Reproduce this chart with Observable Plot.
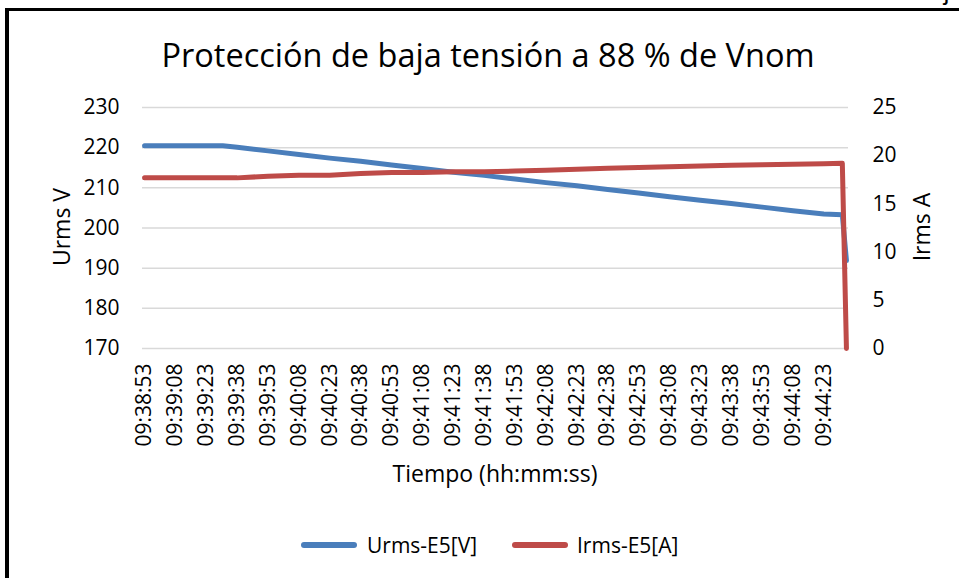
<!DOCTYPE html>
<html><head><meta charset="utf-8">
<script src="https://cdn.jsdelivr.net/npm/d3@7"></script>
<script src="https://cdn.jsdelivr.net/npm/@observablehq/plot@0.6"></script>
<style>
body{margin:0;background:#fff;}
#wrap{position:relative;width:959px;height:578px;overflow:hidden;font-family:"Open Sans",sans-serif;color:#000;background:#fff;}
.abs{position:absolute;white-space:nowrap;line-height:1;}
</style></head>
<body><div id="wrap"></div>
<script>
// ---- data ----
const title = "Protección de baja tensión a 88 % de Vnom";
const xTitle = "Tiempo (hh:mm:ss)";
const yLeftTitle = "Urms V";
const yRightTitle = "Irms A";
const seriesNames = ["Urms-E5[V]", "Irms-E5[A]"];
const seriesColors = ["#4A7EBB", "#BE4B48"];

const tickLabels = ["09:38:53","09:39:08","09:39:23","09:39:38","09:39:53","09:40:08","09:40:23","09:40:38","09:40:53","09:41:08","09:41:23","09:41:38","09:41:53","09:42:08","09:42:23","09:42:38","09:42:53","09:43:08","09:43:23","09:43:38","09:43:53","09:44:08","09:44:23"];
const leftTicks = [170,180,190,200,210,220,230];
const rightTicks = [0,5,10,15,20,25];

const uTimes = ["09:38:53","09:39:08","09:39:23","09:39:31","09:39:38","09:39:53","09:40:08","09:40:23","09:40:38","09:40:53","09:41:08","09:41:23","09:41:38","09:41:53","09:42:08","09:42:23","09:42:38","09:42:53","09:43:08","09:43:23","09:43:38","09:43:53","09:44:08","09:44:23","09:44:32","09:44:34"];
const uValues = [220.5,220.5,220.5,220.5,220.1,219.2,218.3,217.4,216.6,215.7,214.8,213.9,213.1,212.2,211.3,210.5,209.6,208.7,207.8,206.9,206.1,205.2,204.3,203.5,203.3,191.9];

const iTimes = ["09:38:53","09:39:08","09:39:23","09:39:38","09:39:53","09:40:08","09:40:23","09:40:38","09:40:53","09:41:08","09:41:23","09:41:38","09:41:53","09:42:08","09:42:23","09:42:38","09:42:53","09:43:08","09:43:23","09:43:38","09:43:53","09:44:08","09:44:23","09:44:32","09:44:34"];
const iValues = [17.7,17.7,17.7,17.7,17.87,17.98,17.98,18.15,18.26,18.26,18.33,18.33,18.40,18.50,18.60,18.70,18.78,18.86,18.93,19.00,19.07,19.12,19.16,19.22,0];

// ---- helpers ----
const toSec = s => { const [h,m,x] = s.split(":").map(Number); return h*3600 + m*60 + x; };
const pad = n => String(n).padStart(2,"0");
const fmt = t => `${pad(Math.floor(t/3600))}:${pad(Math.floor(t%3600/60))}:${pad(t%60)}`;
const yMin = leftTicks[0], yMax = leftTicks[leftTicks.length-1];
const aMax = rightTicks[rightTicks.length-1];
const aToV = a => yMin + a * (yMax - yMin) / aMax;   // secondary axis mapped onto primary
const vToA = v => (v - yMin) * aMax / (yMax - yMin);

const t0 = toSec(tickLabels[0]);
const uData = uTimes.map((t,i) => ({t: toSec(t), v: uValues[i]}));
const iData = iTimes.map((t,i) => ({t: toSec(t), v: aToV(iValues[i])}));

const W = 959, H = 578;
const chart = Plot.plot({
  width: W, height: H,
  marginLeft: 142, marginRight: 111, marginTop: 107, marginBottom: 230,
  style: {fontFamily: "'Open Sans', sans-serif", fontSize: "21px", color: "#000", background: "transparent", overflow: "visible"},
  x: {type: "linear", domain: [t0 - 1, t0 + 342]},
  y: {domain: [yMin, yMax]},
  marks: [
    Plot.gridY(leftTicks, {stroke: "#d9d9d9", strokeOpacity: 1, strokeWidth: 1.5}),
    Plot.axisY({ticks: leftTicks, tickSize: 0, tickPadding: 23, label: null, fontSize: 21}),
    Plot.axisY({anchor: "right", ticks: rightTicks.map(aToV), tickFormat: d => Math.round(vToA(d)), tickSize: 0, tickPadding: 24, label: null, fontSize: 21}),
    Plot.axisX({ticks: tickLabels.map(toSec), tickFormat: fmt, tickRotate: -90, tickSize: 0, tickPadding: 15, label: null, fontSize: 21}),
    Plot.line(uData, {x: "t", y: "v", stroke: seriesColors[0], strokeWidth: 5, strokeLinejoin: "round", strokeLinecap: "round"}),
    Plot.line(iData, {x: "t", y: "v", stroke: seriesColors[1], strokeWidth: 5, strokeLinejoin: "round", strokeLinecap: "round"})
  ]
});
chart.style.position = "absolute";
chart.style.left = "0px";
chart.style.top = "0px";

const wrap = document.getElementById("wrap");
wrap.appendChild(chart);

function addDiv(html, css) {
  const d = document.createElement("div");
  d.className = "abs";
  d.textContent = html;
  Object.assign(d.style, css);
  wrap.appendChild(d);
  return d;
}
// border
const bt = document.createElement("div"); Object.assign(bt.style, {position:"absolute", left:"5px", top:"8px", width:"954px", height:"3px", background:"#000"}); wrap.appendChild(bt);
const bl = document.createElement("div"); Object.assign(bl.style, {position:"absolute", left:"5px", top:"8px", width:"4px", height:"570px", background:"#000"}); wrap.appendChild(bl);
addDiv("J", {left:"944px", top:"-11px", fontSize:"15px", fontWeight:"bold"});

// title
addDiv(title, {left:"0px", width:"976px", textAlign:"center", top:"39px", fontSize:"32.5px"});
// axis titles
addDiv(xTitle, {left:"0px", width:"990px", textAlign:"center", top:"462px", fontSize:"23px"});
const yl = addDiv(yLeftTitle, {left:"61px", top:"227px", fontSize:"23px", transform:"translate(-50%,-50%) rotate(-90deg)"});
const yr = addDiv(yRightTitle, {left:"921px", top:"227px", fontSize:"23px", transform:"translate(-50%,-50%) rotate(-90deg)"});

// legend
const leg = [[301, 367], [512, 577]];
seriesNames.forEach((n, i) => {
  const sw = document.createElement("div");
  Object.assign(sw.style, {position:"absolute", left: leg[i][0]+"px", top:"542px", width:"56px", height:"6px", borderRadius:"3px", background: seriesColors[i]});
  wrap.appendChild(sw);
  addDiv(n, {left: leg[i][1]+"px", top:"535px", fontSize:"21px"});
});
</script>
</body></html>
